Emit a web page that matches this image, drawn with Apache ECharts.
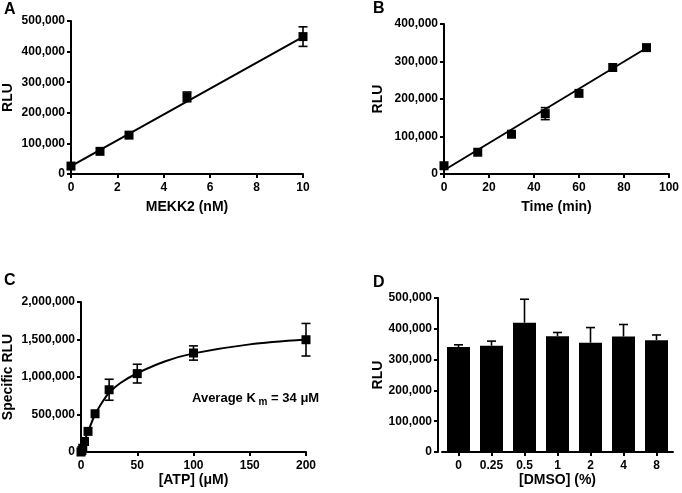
<!DOCTYPE html>
<html>
<head>
<meta charset="utf-8">
<script src="https://cdn.jsdelivr.net/npm/echarts@6/dist/echarts.min.js"></script>
<style>
html,body{margin:0;padding:0;background:#fff;}
#c{width:682px;height:493px;}
</style>
</head>
<body>
<div id="c"></div>
<script>
// Panel A: MEKK2 titration
const mekkX = [0, 1.25, 2.5, 5, 10];
const mekkY = [26000, 74000, 127000, 252000, 449000];
const mekkErr = [0, 0, 0, 16000, 32000];
const fitAX = [0, 10];
const fitAY = [26000, 448000];

// Panel B: time course
const timeX = [0, 15, 30, 45, 60, 75, 90];
const timeY = [22000, 58000, 106000, 161000, 215000, 284000, 337000];
const timeErr = [0, 0, 0, 16000, 0, 0, 0];
const fitBX = [0, 90];
const fitBY = [10000, 336000];

// Panel C: ATP Km
const atpX = [0, 0.78, 1.56, 3.125, 6.25, 12.5, 25, 50, 100, 200];
const atpY = [0, 20000, 50000, 140000, 275000, 510000, 830000, 1045000, 1320000, 1497000];
const atpErr = [0, 0, 0, 0, 0, 0, 140000, 125000, 95000, 217000];
const fitCX = [0, 3, 6.25, 12.5, 20, 25, 35, 50, 75, 100, 150, 200];
const fitCY = [0, 140000, 270000, 500000, 690000, 790000, 920000, 1050000, 1210000, 1315000, 1435000, 1500000];

// Panel D: DMSO tolerance
const dmsoCats = ['0', '0.25', '0.5', '1', '2', '4', '8'];
const dmsoY = [341000, 345000, 420000, 376000, 355000, 375000, 363000];
const dmsoErr = [7000, 15000, 76000, 12000, 49000, 39000, 17000];

const FONT = "'Liberation Sans', Arial, sans-serif";
const fmt = v => v.toLocaleString('en-US');

function zip(a, b) { return a.map((v, i) => [v, b[i]]); }
function errData(xs, ys, es) {
  return xs.map((x, i) => [x, ys[i] - es[i], ys[i] + es[i]]).filter((d, i) => es[i] > 0);
}

function errRender(twoSided) {
  return function (params, api) {
    const x = api.value(0);
    const lo = api.coord([x, api.value(1)]);
    const hi = api.coord([x, api.value(2)]);
    const hw = 4.5;
    const st = { stroke: '#000', lineWidth: 1.6 };
    const ch = [
      { type: 'line', shape: { x1: lo[0], y1: lo[1], x2: hi[0], y2: hi[1] }, style: st },
      { type: 'line', shape: { x1: hi[0] - hw, y1: hi[1], x2: hi[0] + hw, y2: hi[1] }, style: st }
    ];
    if (twoSided) ch.push({ type: 'line', shape: { x1: lo[0] - hw, y1: lo[1], x2: lo[0] + hw, y2: lo[1] }, style: st });
    return { type: 'group', children: ch };
  };
}

const axisLine = { show: true, lineStyle: { color: '#000', width: 2 } };
const axisTick = { show: true, length: 4, lineStyle: { color: '#000', width: 2 } };
const lbl = { color: '#000', fontFamily: FONT, fontWeight: 'bold', fontSize: 12 };
const nameStyle = { color: '#000', fontFamily: FONT, fontWeight: 'bold', fontSize: 14 };
const mark = { color: '#000', opacity: 1 };

function vx(grid, min, max, interval, name, gap) {
  return { type: 'value', gridIndex: grid, min, max, interval, name, nameLocation: 'middle', nameGap: gap,
    nameTextStyle: nameStyle, axisLine, axisTick, splitLine: { show: false },
    axisLabel: Object.assign({ margin: 8 }, lbl) };
}
function vy(grid, max, interval, name, gap, offset) {
  return { type: 'value', gridIndex: grid, min: 0, max, interval, name, nameLocation: 'middle', nameGap: gap,
    nameRotate: 90, offset: offset || 0,
    nameTextStyle: nameStyle, axisLine, axisTick, splitLine: { show: false },
    axisLabel: Object.assign({ margin: 6, formatter: fmt }, lbl) };
}

const option = {
  animation: false,
  backgroundColor: '#fff',
  grid: [
    { left: 71, top: 21, width: 232, height: 153 },
    { left: 444, top: 24, width: 228, height: 150 },
    { left: 79, top: 302, width: 227, height: 150 },
    { left: 442, top: 298, width: 231, height: 154 }
  ],
  xAxis: [
    vx(0, 0, 10, 2, 'MEKK2 (nM)', 26),
    vx(1, 0, 100, 20, 'Time (min)', 26),
    vx(2, 0, 200, 50, '[ATP] (μM)', 19),
    { type: 'category', gridIndex: 3, data: dmsoCats, name: '[DMSO] (%)', nameLocation: 'middle', nameGap: 19,
      nameTextStyle: nameStyle, axisLine, axisTick: Object.assign({ alignWithLabel: true }, axisTick),
      axisLabel: Object.assign({ margin: 8 }, lbl) }
  ],
  yAxis: [
    vy(0, 500000, 100000, 'RLU', 56),
    vy(1, 400000, 100000, 'RLU', 59),
    vy(2, 2000000, 500000, 'Specific RLU', 66),
    vy(3, 500000, 100000, 'RLU', 53, 4)
  ],
  series: [
    { type: 'line', xAxisIndex: 0, yAxisIndex: 0, data: zip(fitAX, fitAY), showSymbol: false,
      lineStyle: { color: '#000', width: 2 }, z: 2 },
    { type: 'custom', xAxisIndex: 0, yAxisIndex: 0, data: errData(mekkX, mekkY, mekkErr), renderItem: errRender(true), z: 3 },
    { type: 'scatter', xAxisIndex: 0, yAxisIndex: 0, data: zip(mekkX, mekkY), symbol: 'rect', symbolSize: 9,
      itemStyle: mark, z: 4 },

    { type: 'line', xAxisIndex: 1, yAxisIndex: 1, data: zip(fitBX, fitBY), showSymbol: false,
      lineStyle: { color: '#000', width: 2 }, z: 2 },
    { type: 'custom', xAxisIndex: 1, yAxisIndex: 1, data: errData(timeX, timeY, timeErr), renderItem: errRender(true), z: 3 },
    { type: 'scatter', xAxisIndex: 1, yAxisIndex: 1, data: zip(timeX, timeY), symbol: 'rect', symbolSize: 9,
      itemStyle: mark, z: 4 },

    { type: 'line', xAxisIndex: 2, yAxisIndex: 2, data: zip(fitCX, fitCY), showSymbol: false, smooth: 0.3,
      lineStyle: { color: '#000', width: 2 }, z: 2 },
    { type: 'custom', xAxisIndex: 2, yAxisIndex: 2, data: errData(atpX, atpY, atpErr), renderItem: errRender(true), z: 3 },
    { type: 'scatter', xAxisIndex: 2, yAxisIndex: 2, data: zip(atpX, atpY), symbol: 'rect', symbolSize: 9,
      itemStyle: mark, z: 4 },

    { type: 'bar', xAxisIndex: 3, yAxisIndex: 3, data: dmsoY, barWidth: 23,
      itemStyle: mark, z: 2 },
    { type: 'custom', xAxisIndex: 3, yAxisIndex: 3, data: dmsoY.map((v, i) => [i, v, v + dmsoErr[i]]),
      renderItem: errRender(false), z: 3 }
  ],
  graphic: [
    { type: 'text', left: 4, top: 2, style: { text: 'A', font: "bold 16px " + FONT, fill: '#000' } },
    { type: 'text', left: 373, top: 1, style: { text: 'B', font: "bold 16px " + FONT, fill: '#000' } },
    { type: 'text', left: 4, top: 273, style: { text: 'C', font: "bold 16px " + FONT, fill: '#000' } },
    { type: 'text', left: 373, top: 275, style: { text: 'D', font: "bold 16px " + FONT, fill: '#000' } },
    { type: 'text', left: 192, top: 391, style: {
        text: '{a|Average K}{s| m}{a| = 34 μM}',
        rich: {
          a: { fontFamily: FONT, fontWeight: 'bold', fontSize: 13, fill: '#000', lineHeight: 18, verticalAlign: 'middle' },
          s: { fontFamily: FONT, fontWeight: 'bold', fontSize: 10, fill: '#000', lineHeight: 18, verticalAlign: 'bottom', padding: [6, 0, 0, 0] }
        }
      } }
  ]
};

const chart = echarts.init(document.getElementById('c'), null, { renderer: 'canvas' });
chart.setOption(option);
</script>
</body>
</html>
